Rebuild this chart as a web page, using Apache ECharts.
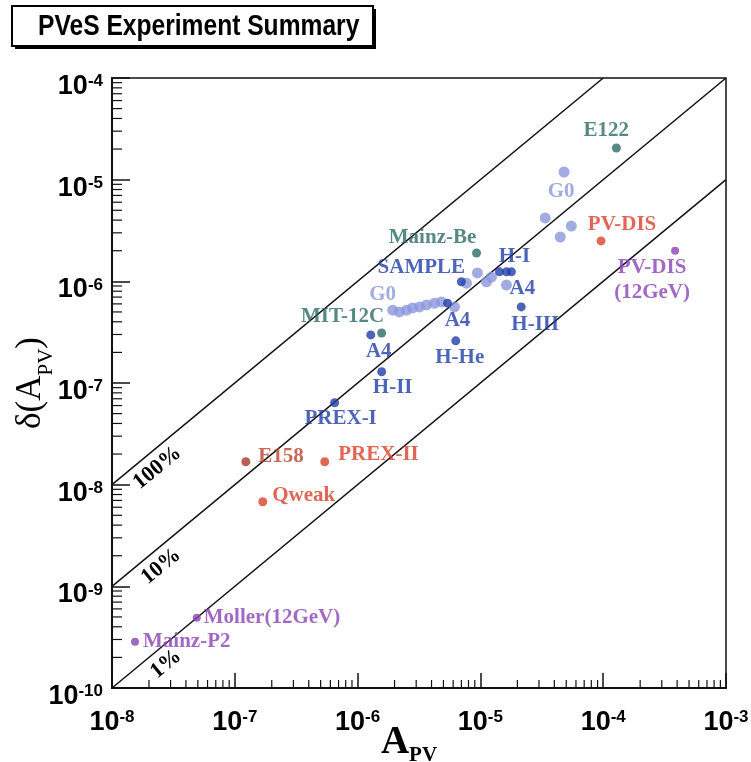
<!DOCTYPE html>
<html>
<head>
<meta charset="utf-8">
<script src="https://cdn.jsdelivr.net/npm/echarts@6.0.0/dist/echarts.min.js"></script>
<style>
html, body { margin: 0; padding: 0; background: #fff; }
#chart { width: 751px; height: 762px; }
</style>
</head>
<body>
<div id="chart"></div>
<script>
// measurements: [A_PV, delta(A_PV), label id]
var tealPts = [[1.28e-4, 2.05e-5, 'E122'], [9.3e-6, 1.9e-6, 'Mainz-Be'], [1.57e-6, 3.1e-7, 'MIT-12C']];
var bluePts = [
    [7.0e-6, 9.9e-7, 'SAMPLE'], [1.43e-5, 1.24e-6], [1.63e-5, 1.24e-6, 'H-I'], [1.79e-5, 1.24e-6],
    [5.4e-6, 6.1e-7, 'A4#m'], [2.15e-5, 5.6e-7, 'H-III'], [6.3e-6, 2.6e-7, 'H-He'],
    [1.28e-6, 2.97e-7, 'A4#l'], [1.57e-6, 1.29e-7, 'H-II'], [6.5e-7, 6.4e-8, 'PREX-I']
];
var g0Pts = [
    [1.93e-6, 5.2e-7, 'G0#lo'], [2.19e-6, 5.0e-7], [2.5e-6, 5.2e-7], [2.8e-6, 5.47e-7], [3.19e-6, 5.6e-7],
    [3.64e-6, 5.86e-7], [4.23e-6, 6.1e-7], [4.82e-6, 6.27e-7], [6.15e-6, 5.6e-7], [7.7e-6, 9.6e-7],
    [9.46e-6, 1.21e-6], [1.12e-5, 9.9e-7], [1.23e-5, 1.1e-6], [1.63e-5, 9.2e-7, 'A4#r'],
    [4.8e-5, 1.19e-5, 'G0#hi'], [3.37e-5, 4.2e-6], [5.5e-5, 3.5e-6], [4.47e-5, 2.73e-6]
];
var redPts = [[9.6e-5, 2.5e-6, 'PV-DIS'], [5.4e-7, 1.68e-8, 'PREX-II'], [1.69e-7, 6.8e-9, 'Qweak']];
var brownPts = [[1.23e-7, 1.68e-8, 'E158']];
var purplePts = [[3.85e-4, 2.0e-6, 'PV-DIS\n(12GeV)'], [4.9e-8, 4.9e-10, 'Moller(12GeV)'], [1.54e-8, 2.85e-10, 'Mainz-P2']];

// y = x, 0.1 x, 0.01 x
var line100 = [[1e-8, 1e-8], [1e-4, 1e-4]];
var line10 = [[1e-8, 1e-9], [1e-3, 1e-4]];
var line1 = [[1e-8, 1e-10], [1e-3, 1e-5]];
var ratioLabels = ['100%', '10%', '1%'];
var ratioLabelX = [1.3e-8, 1.51e-8, 1.79e-8];

var TEAL = '#2c6b64', BLUE = '#1f3ea8', LIGHT = '#8b97db', RED = '#d8412a', BROWN = '#a23a28', PURPLE = '#8a44b5';

// label placement (pixels)
var labelStyle = {
    'E122': { off: [-10, -17] },
    'Mainz-Be': { off: [-44, -15] },
    'MIT-12C': { off: [-39, -16] },
    'SAMPLE': { off: [-40, -14] },
    'H-I': { off: [8, -15] },
    'A4#m': { off: [10, 17] },
    'H-III': { off: [14, 18] },
    'H-He': { off: [4, 17] },
    'A4#l': { off: [8, 17] },
    'H-II': { off: [11, 16] },
    'PREX-I': { off: [6, 16] },
    'G0#lo': { off: [-10, -16] },
    'A4#r': { off: [16, 4], color: BLUE },
    'G0#hi': { off: [-3, 20] },
    'PV-DIS': { off: [21, -16] },
    'PREX-II': { pos: 'right', dist: 9, off: [0, -7] },
    'Qweak': { pos: 'right', dist: 5, off: [0, -6] },
    'E158': { pos: 'right', dist: 8, off: [0, -5], color: '#b8432e' },
    'PV-DIS\n(12GeV)': { off: [-23, 29] },
    'Moller(12GeV)': { pos: 'right', dist: 3, off: [0, 0] },
    'Mainz-P2': { pos: 'right', dist: 4, off: [0, 0] }
};

function pointSeries(name, pts, color, size) {
    return {
        type: 'scatter',
        name: name,
        symbolSize: size,
        itemStyle: { color: color },
        z: 3,
        label: { fontFamily: 'Liberation Serif', fontWeight: 'bold', fontSize: 21, lineHeight: 25 },
        data: pts.map(function (p) {
            var d = { value: [p[0], p[1]] };
            if (p[2]) {
                var s = labelStyle[p[2]];
                d.label = {
                    show: true,
                    formatter: p[2].split('#')[0],
                    position: s.pos || 'inside',
                    distance: s.dist || 5,
                    offset: s.off,
                    color: s.color || color
                };
            }
            return d;
        })
    };
}

function ratioSeries(data) {
    return {
        type: 'line',
        data: data,
        symbol: 'none',
        lineStyle: { color: '#111', width: 1.5 },
        z: 2
    };
}

function expLabel(v) {
    return '{b|10}{s|' + Math.round(Math.log10(v)) + '}';
}

// digits sit a little below the tick, exponent raised
var tickRich = {
    b: { fontFamily: 'Liberation Sans', fontWeight: 'bold', fontSize: 27, lineHeight: 34, padding: [12, 0, 0, 0], color: '#000', verticalAlign: 'top' },
    s: { fontFamily: 'Liberation Sans', fontWeight: 'bold', fontSize: 17, lineHeight: 16, padding: [12, 0, 0, 0], color: '#000', verticalAlign: 'top' }
};

var chart = echarts.init(document.getElementById('chart'));

var option = {
    animation: false,
    grid: { left: 112, right: 25, top: 78, bottom: 74, show: true, borderColor: '#111', borderWidth: 1.5, outerBoundsMode: 'none', containLabel: false },
    xAxis: {
        type: 'log',
        logBase: 10,
        min: 1e-8,
        max: 1e-3,
        splitNumber: 5,
        name: '{a|A}{p|PV}',
        nameLocation: 'middle',
        nameGap: 35,
        nameMoveOverlap: false,
        nameTextStyle: {
            padding: [0, 20, 0, 0],
            rich: {
                a: { fontFamily: 'Liberation Serif', fontWeight: 'bold', fontSize: 39, lineHeight: 40, color: '#000', verticalAlign: 'top' },
                p: { fontFamily: 'Liberation Serif', fontWeight: 'bold', fontSize: 21, lineHeight: 22, padding: [22, 0, 0, 0], color: '#000', verticalAlign: 'top' }
            }
        },
        axisLine: { lineStyle: { color: '#111', width: 2 } },
        axisTick: { inside: true, length: 15, lineStyle: { color: '#111', width: 1.5 } },
        axisLabel: { formatter: expLabel, rich: tickRich, margin: 9 },
        splitLine: { show: false }
    },
    yAxis: {
        type: 'log',
        logBase: 10,
        min: 1e-10,
        max: 1e-4,
        splitNumber: 6,
        name: '{a|δ(A}{p|PV}{a|)}',
        nameLocation: 'middle',
        nameGap: 62,
        nameMoveOverlap: false,
        nameTextStyle: {
            rich: {
                a: { fontFamily: 'Liberation Serif', fontSize: 35, lineHeight: 38, color: '#000' },
                p: { fontFamily: 'Liberation Serif', fontSize: 21, lineHeight: 38, color: '#000', verticalAlign: 'bottom', padding: [0, 0, -7, 0] }
            }
        },
        axisLine: { lineStyle: { color: '#111', width: 2 } },
        axisTick: { inside: true, length: 18, lineStyle: { color: '#111', width: 1.5 } },
        axisLabel: { formatter: expLabel, rich: tickRich, margin: 9 },
        splitLine: { show: false }
    },
    series: [
        ratioSeries(line100),
        ratioSeries(line10),
        ratioSeries(line1),
        pointSeries('G0', g0Pts, LIGHT, 11),
        pointSeries('teal', tealPts, TEAL, 9),
        pointSeries('blue', bluePts, BLUE, 9),
        pointSeries('red', redPts, RED, 9),
        pointSeries('E158', brownPts, BROWN, 9),
        pointSeries('purple', purplePts, PURPLE, 8)
    ]
};

chart.setOption(option);

// title box, minor ticks at 2..9 x 10^n and the ratio line labels
function decorate() {
    var g = [
        { type: 'rect', shape: { x: 15, y: 9, width: 361, height: 40 }, style: { fill: '#000' }, z: 20 },
        { type: 'rect', shape: { x: 12, y: 6, width: 361, height: 40 }, style: { fill: '#fff', stroke: '#000', lineWidth: 2 }, z: 21 },
        {
            type: 'text', x: 38, y: 27, scaleX: 0.82, z: 22,
            style: { text: 'PVeS Experiment Summary', fill: '#000', font: 'bold 30px "Liberation Sans"', align: 'left', verticalAlign: 'middle' }
        }
    ];
    var x0 = chart.convertToPixel({ xAxisIndex: 0 }, 1e-8);
    var y0 = chart.convertToPixel({ yAxisIndex: 0 }, 1e-10);
    var e, k, p;
    for (e = -8; e < -3; e++) {
        for (k = 2; k <= 9; k++) {
            p = chart.convertToPixel({ xAxisIndex: 0 }, k * Math.pow(10, e));
            g.push({ type: 'line', shape: { x1: p, y1: y0, x2: p, y2: y0 - 8 }, style: { stroke: '#111', lineWidth: 1.2 }, z: 10 });
        }
    }
    for (e = -10; e < -4; e++) {
        for (k = 2; k <= 9; k++) {
            p = chart.convertToPixel({ yAxisIndex: 0 }, k * Math.pow(10, e));
            g.push({ type: 'line', shape: { x1: x0, y1: p, x2: x0 + 10, y2: p }, style: { stroke: '#111', lineWidth: 1.2 }, z: 10 });
        }
    }
    var lines = [line100, line10, line1];
    for (var i = 0; i < lines.length; i++) {
        var a = chart.convertToPixel({ gridIndex: 0 }, lines[i][0]);
        var b = chart.convertToPixel({ gridIndex: 0 }, lines[i][1]);
        var ang = Math.atan2(a[1] - b[1], b[0] - a[0]);
        var ratio = lines[i][0][1] / lines[i][0][0];
        var c = chart.convertToPixel({ gridIndex: 0 }, [ratioLabelX[i], ratioLabelX[i] * ratio]);
        var d = 16;
        g.push({
            type: 'text',
            x: c[0] + Math.sin(ang) * d,
            y: c[1] + Math.cos(ang) * d,
            rotation: ang,
            style: {
                text: ratioLabels[i],
                fill: '#000',
                font: 'bold 22px "Liberation Serif"',
                align: 'left',
                verticalAlign: 'middle'
            },
            z: 10
        });
    }
    chart.setOption({ graphic: g });
}
decorate();
</script>
</body>
</html>
